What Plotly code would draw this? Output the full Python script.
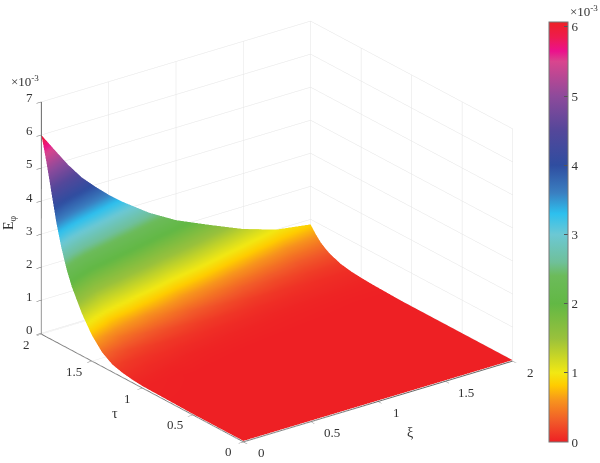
import plotly.graph_objects as go

xi = [0, .1, .2, .3, .4, .5, .6, .8, 1, 1.25, 1.5, 1.75, 2]
tau = [0, .5, 1, 1.1, 1.2, 1.3, 1.4, 1.5, 1.6, 1.7, 1.75, 1.8, 1.85, 1.9, 1.95, 2]
E = [
    [0]*13,
    [0]*13,
    [.03, .025, .02, .015, .015, .01, .01, .005, 0, 0, 0, 0, 0],
    [.06, .05, .04, .03, .03, .025, .02, .015, .01, .005, 0, 0, 0],
    [.11, .09, .07, .06, .05, .04, .035, .03, .025, .02, .015, .01, .01],
    [.20, .15, .12, .10, .09, .075, .065, .05, .04, .03, .025, .02, .02],
    [.40, .30, .23, .19, .16, .135, .12, .09, .07, .05, .04, .035, .03],
    [.75, .59, .46, .39, .33, .28, .24, .17, .13, .09, .07, .06, .05],
    [1.25, 1.03, .84, .73, .65, .55, .49, .35, .26, .17, .12, .09, .08],
    [1.9, 1.62, 1.37, 1.22, 1.11, .98, .88, .67, .52, .35, .24, .17, .14],
    [2.33, 1.98, 1.69, 1.52, 1.40, 1.25, 1.13, .88, .71, .49, .34, .24, .20],
    [2.88, 2.42, 2.08, 1.87, 1.71, 1.55, 1.43, 1.13, .93, .67, .47, .32, .26],
    [3.55, 3.02, 2.62, 2.35, 2.12, 1.92, 1.76, 1.43, 1.20, .88, .63, .44, .35],
    [4.4, 3.78, 3.3, 2.95, 2.65, 2.38, 2.15, 1.76, 1.49, 1.13, .84, .59, .47],
    [5.25, 4.62, 4.08, 3.65, 3.28, 2.95, 2.68, 2.15, 1.82, 1.41, 1.07, .80, .64],
    [6.0, 5.42, 4.85, 4.35, 3.95, 3.58, 3.25, 2.67, 2.2, 1.75, 1.32, 1.0, .85],
]
ticks_xy = [0, .5, 1, 1.5, 2]
labels_xy = ["0", "0.5", "1", "1.5", "2"]
ticks_z = [0, 1, 2, 3, 4, 5, 6, 7]
ticks_bar = [0, 1, 2, 3, 4, 5, 6]
CMAX = 6.07
stops = [(0, "#EE2024"), (.3, "#F15A29"), (.6, "#F7941D"), (.82, "#FFCC00"), (1, "#F2E813"),
         (1.5, "#99C13C"), (2, "#62B845"), (2.4, "#6CBB5A"), (2.6, "#6FC09A"), (3, "#6CC8D4"),
         (3.3, "#2DC0EE"), (3.6, "#3A7FC1"), (4, "#2F4DA0"), (4.5, "#54479A"), (5, "#8E4A9B"),
         (5.5, "#D9458E"), (5.65, "#EC118C"), (5.85, "#EE1B4F"), (6.07, "#EE2024")]
colorscale = [[v / CMAX, c] for v, c in stops]

FONT = "Liberation Serif"
TXT = "#333333"
tickfont = dict(family=FONT, size=13, color=TXT)
axis = dict(showbackground=False, showgrid=True, gridcolor="#e4e4e4", gridwidth=1,
            showline=True, linecolor="#666666", linewidth=2, ticks="outside", ticklen=6,
            tickcolor="#666666", showspikes=False, zeroline=False, title=dict(text=""),
            showticklabels=False)

fig = go.Figure(go.Surface(
    x=xi, y=tau, z=E, cmin=0, cmax=CMAX, colorscale=colorscale,
    lighting=dict(ambient=1, diffuse=0, specular=0, fresnel=0, roughness=1),
    colorbar=dict(x=549/600, xanchor="left", y=1 - 232/463, yanchor="middle",
                  thicknessmode="pixels", thickness=19, lenmode="pixels", len=420, ypad=0, xpad=0,
                  tickmode="array", tickvals=ticks_bar, ticks="inside", ticklen=4,
                  tickcolor="#555555", outlinecolor="#777777", outlinewidth=1,
                  tickfont=tickfont),
))

scene_notes = []
for v, t in zip(ticks_xy, labels_xy):
    pad = 3 if len(t) > 1 else 0
    scene_notes.append(dict(x=v, y=0, z=0, text=t, showarrow=False, font=tickfont,
                            xshift=18 + pad, yshift=-12))
    scene_notes.append(dict(x=0, y=v, z=0, text=t, showarrow=False, font=tickfont,
                            xshift=-15 - pad, yshift=-11))
for v in ticks_z:
    scene_notes.append(dict(x=0, y=2, z=v, text=str(v), showarrow=False, font=tickfont,
                            xshift=-12, yshift=4))

def note(text, px, py, **kw):
    return dict(text=text, x=px/600, y=1-py/463, xref="paper", yref="paper", showarrow=False,
                xanchor="center", yanchor="middle", **kw)

r = 1.375
S = 1.454
fig.update_layout(
    width=600, height=463, margin=dict(l=0, r=0, t=0, b=0, autoexpand=False), paper_bgcolor="white",
    scene=dict(
        domain=dict(x=[0, 554/600], y=[0, 1]),
        xaxis=dict(axis, range=[0, 2], tickvals=ticks_xy),
        yaxis=dict(axis, range=[0, 2], tickvals=ticks_xy),
        zaxis=dict(axis, range=[-.03, 7], tickvals=ticks_z),
        aspectmode="manual", aspectratio=dict(x=S, y=S, z=.753*S),
        camera=dict(projection=dict(type="orthographic"),
                    eye=dict(x=-.55*r, y=-.733*r, z=.40*r),
                    up=dict(x=0, y=0, z=1), center=dict(x=0, y=0, z=0)),
        annotations=scene_notes,
    ),
    annotations=[
        note("×10<sup>-3</sup>", 584, 11, font=tickfont),
        note("×10<sup>-3</sup>", 25, 81, font=tickfont),
        note("E<sub>φ</sub>", 9, 223, textangle=-90, font=dict(family=FONT, size=14, color=TXT)),
        note("τ", 115, 413, font=dict(family=FONT, size=14, color=TXT)),
        note("ξ", 410, 432, font=dict(family=FONT, size=14, color=TXT)),
    ],
)
fig.write_html("out.html", config=dict(displayModeBar=False),
               post_script="document.body.style.margin='0';document.documentElement.style.overflow='hidden';")
